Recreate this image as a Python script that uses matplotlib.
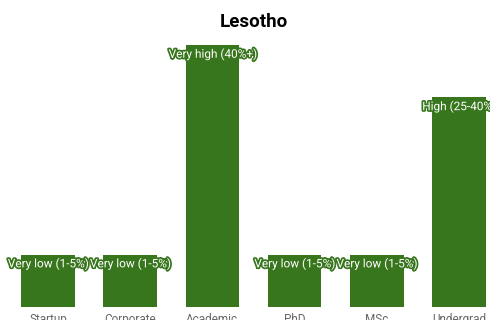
import matplotlib.pyplot as plt
import matplotlib.patheffects as pe

# Lesotho: share level per career category (1 = very low ... 5 = very high)
categories = ["Startup", "Corporate", "Academic", "PhD", "MSc", "Undergrad"]
levels = [1, 1, 5, 1, 1, 4]
level_labels = ["Very low (1-5%)", "Very low (1-5%)", "Very high (40%+)",
                "Very low (1-5%)", "Very low (1-5%)", "High (25-40%)"]

plt.rcParams['font.family'] = ['Roboto', 'DejaVu Sans']

fig = plt.figure(figsize=(4.9, 3.2), dpi=100)
ax = fig.add_axes([7 / 490, 13 / 320, 493 / 490, 262 / 320])

bar_color = "#38761d"
x = range(len(categories))
ax.bar(x, levels, width=0.655, color=bar_color)

for i, (v, lab) in enumerate(zip(levels, level_labels)):
    ax.annotate(lab, (i, v), xytext=(0, -6.5), textcoords="offset points",
                ha="center", va="center", fontsize=8.5, color="white",
                path_effects=[pe.withStroke(linewidth=2.5, foreground=bar_color)],
                annotation_clip=False, clip_on=False)

ax.set_xlim(-0.5, 5.5)
ax.set_ylim(0, 5)
ax.set_xticks(list(x))
ax.set_xticklabels(categories, fontsize=8.5, color="#666666")
ax.tick_params(axis="x", length=0, pad=4)
ax.set_yticks([])
for s in ax.spines.values():
    s.set_visible(False)

# title centred over the plotting area
fig.text(253.5 / 490, 1 - 22 / 320, "Lesotho", ha="center", va="center",
         fontsize=13.5, fontweight="bold", color="black")

fig.savefig("out.png", dpi=100)
